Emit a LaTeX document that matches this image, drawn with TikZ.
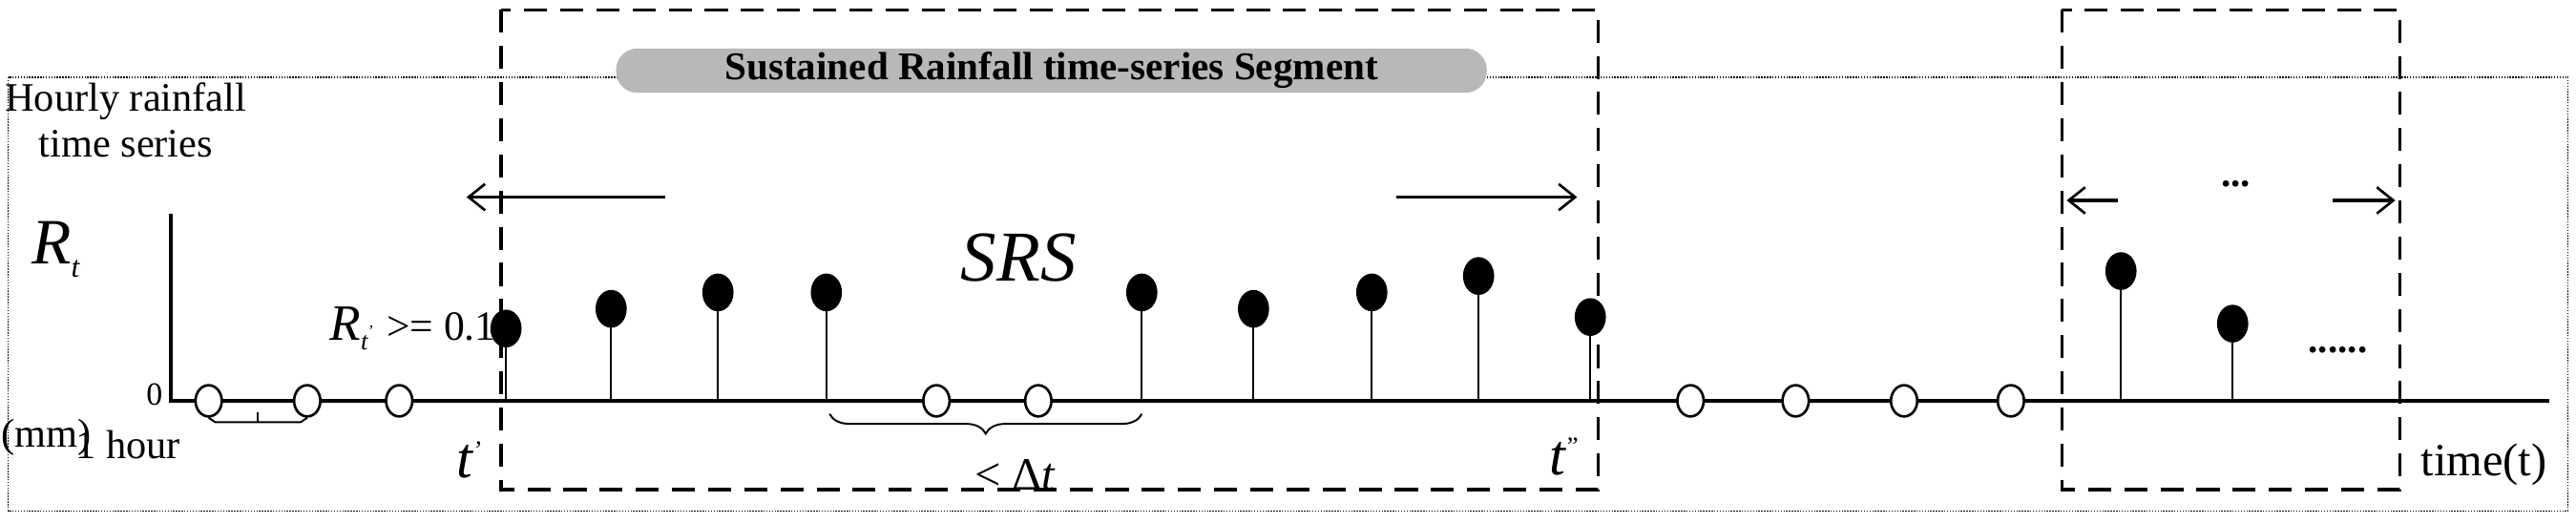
\documentclass[tikz,border=0pt]{standalone}
\usepackage{fontspec}
\setmainfont{Liberation Serif}
\usetikzlibrary{decorations.pathreplacing,arrows.meta,shapes.geometric}
\newcommand{\fs}[1]{\fontsize{#1}{#1}\selectfont}
\begin{document}
\begin{tikzpicture}[x=0.5mm,y=-0.5mm,
  txt/.style={inner sep=0pt,font=\fontsize{35}{40}\selectfont},
  open/.style={ellipse,draw,line width=2.2pt,fill=white,minimum width=16*0.5mm,minimum height=19*0.5mm,inner sep=0pt},
  full/.style={ellipse,fill=black,minimum width=19*0.5mm,minimum height=23*0.5mm,inner sep=0pt},
  stem/.style={line width=1.6pt},
  dbox/.style={line width=2.6pt,dash pattern=on 7mm off 4mm},
  arr/.style={line width=3pt,-{Straight Barb[length=5mm,width=8mm,line width=2.2pt]}}]
\useasboundingbox (0,0) rectangle (1568,318);
% outer dotted
\draw[line width=1.3pt,dash pattern=on 1.2pt off 1.2pt] (5,47) rectangle (1563,311);
% dashed boxes
\draw[dbox] (305,6) rectangle (973,298);
\draw[dbox] (1255,6) rectangle (1461,298);
% axes
\coordinate (o) at (104,244);
\coordinate (top) at (104,130);
\coordinate (end) at (1552,244);
\draw[line width=4pt] (top) -- (o) -- (end);
% open circles
\foreach \x [count=\i] in {127,187,243,570,632,1029,1093,1159,1224}
  \node[open] (c\i) at (\x,244) {};
% stems
\foreach \x/\y [count=\i] in {308/200,372/188,437/178,503/178,695/178,763/188,835/178,900/168,968/193,1291/165,1359/197}{
  \coordinate (b\i) at (\x,244);
  \node[full] (s\i) at (\x,\y) {};
  \draw[stem] (b\i) -- (s\i.center);}
% labels
\node[txt,align=center,anchor=north west] (hr) at (3,50) {Hourly rainfall\\time series};
\node[inner sep=0pt] (rt) at (34,152) {\fs{56}\textit{R}\raisebox{-4mm}{\fs{26}\textit{t}}};
\node[txt,font=\fs{28}] (zero) at (94,240) {0};
\node[txt] (mm) at (28,266) {(mm)};
\node[txt] (hour) at (78,271) {1 hour};
\draw[line width=1.6pt] (c1.south) -- (131,257) -- (183,257) -- (c2.south);
\draw[line width=1.6pt] (157,257) -- (157,251);
\node[txt,anchor=east] (cond) at (302,200) {\fs{44}\textit{R}\raisebox{-3mm}{\fs{22}\textit{t}}\raisebox{1mm}{\fs{14}'}\ \fs{36}>= 0.1};
\node[txt] (t1) at (286,280) {\fs{50}\textit{t}\raisebox{6mm}{\fs{22}'}};
\node[txt] (t2) at (952,278) {\fs{50}\textit{t}\raisebox{6mm}{\fs{22}''}};
\draw[line width=1.6pt,decoration={brace,mirror,amplitude=6mm},decorate] (505,252) -- (695,252);
\node[txt,font=\fs{40}] (dt) at (618,289) {< Δ\textit{t}};
\node[txt,font=\fs{40}] (time) at (1512,283) {time(t)};
% pill
\node[fill=black!28,rounded corners=6.5mm,minimum width=530*0.5mm,minimum height=27*0.5mm,inner sep=0pt,
  font=\fs{34}\bfseries] (pill) at (640,43) {Sustained Rainfall time-series Segment};
\node[txt,font=\fs{62}\itshape] (srs) at (620,157) {SRS};
\coordinate (la) at (405,120); \coordinate (lb) at (284,120);
\coordinate (ra) at (850,120); \coordinate (rb) at (960,120);
\draw[arr] (la) -- (lb);
\draw[arr] (ra) -- (rb);
\coordinate (la2) at (1289,122); \coordinate (lb2) at (1258,122);
\coordinate (ra2) at (1420,122); \coordinate (rb2) at (1458,122);
\draw[arr] (la2) -- (lb2);
\draw[arr] (ra2) -- (rb2);
\node[txt,font=\fs{34}\bfseries] (dots) at (1361,112) {...};
\node[txt,font=\fs{34}\bfseries] (dots2) at (1423,213) {......};
\end{tikzpicture}
\end{document}
